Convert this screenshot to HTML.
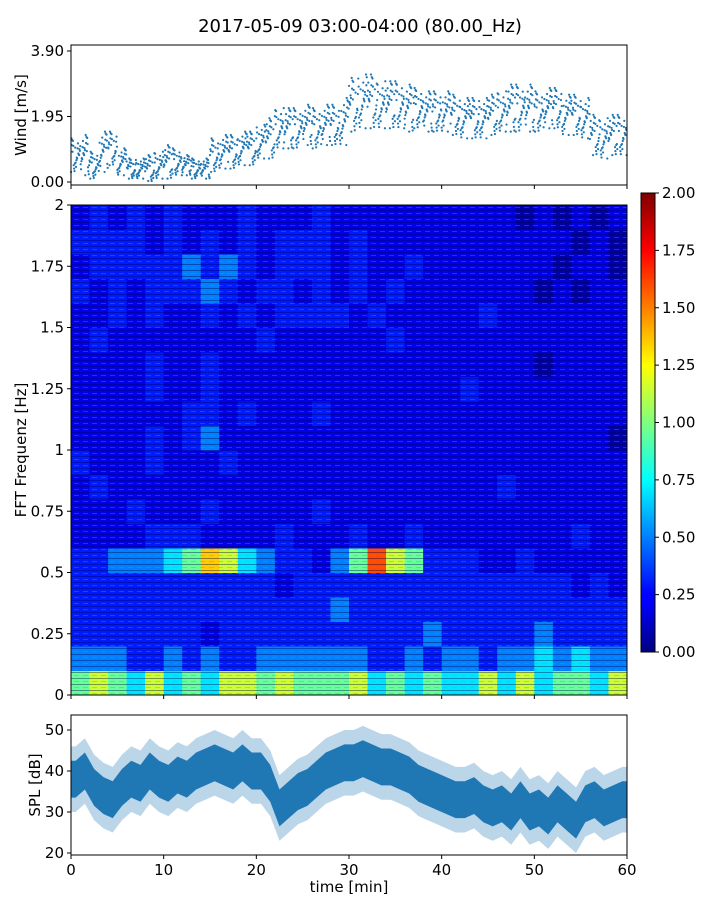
<!DOCTYPE html>
<html><head><meta charset="utf-8">
<style>
body{margin:0;background:#fff;width:720px;height:900px;overflow:hidden;font-family:"Liberation Sans","DejaVu Sans",sans-serif;}
svg text{font-family:"DejaVu Sans","Liberation Sans",sans-serif;fill:#000;}
</style></head>
<body>
<svg id="fig" width="720" height="900" xmlns="http://www.w3.org/2000/svg">
<defs>
<linearGradient id="jet" x1="0" y1="1" x2="0" y2="0">
<stop offset="0" stop-color="#000080"/><stop offset="0.11" stop-color="#0000ff"/><stop offset="0.125" stop-color="#0000ff"/>
<stop offset="0.375" stop-color="#00ffff"/><stop offset="0.625" stop-color="#ffff00"/><stop offset="0.875" stop-color="#ff0000"/><stop offset="1" stop-color="#800000"/>
</linearGradient>
<pattern id="streak" width="9" height="6" patternUnits="userSpaceOnUse">
<rect x="0" y="0" width="9" height="1" fill="#000050" opacity="0.4"/>
<rect x="2" y="3" width="5" height="1" fill="#5090ff" opacity="0.35"/>
</pattern>
</defs>
<text x="360" y="32" font-size="18" text-anchor="middle">2017-05-09 03:00-04:00 (80.00_Hz)</text>
<g id="wind"></g>
<g id="spec"></g>
<g id="cbar"></g>
<g id="spl"></g>
</svg>
<script>
const windMean=[0.8,0.8,0.5,0.9,1.0,0.6,0.4,0.4,0.4,0.5,0.6,0.6,0.5,0.4,0.4,0.8,0.9,0.9,1.0,1.0,1.2,1.3,1.6,1.6,1.6,1.7,1.6,1.7,1.7,1.8,2.3,2.4,2.4,2.3,2.3,2.3,2.2,2.2,2.1,2.1,2.1,2.0,1.9,1.9,1.9,2.0,2.1,2.2,2.2,2.2,2.1,2.2,2.2,2.0,2.0,1.9,1.4,1.3,1.4,1.4];
const windSpread=[0.5,0.6,0.4,0.6,0.5,0.4,0.3,0.3,0.4,0.4,0.5,0.4,0.3,0.3,0.3,0.5,0.5,0.5,0.5,0.5,0.5,0.6,0.6,0.6,0.6,0.6,0.6,0.6,0.6,0.7,0.8,0.8,0.8,0.7,0.7,0.7,0.7,0.6,0.6,0.6,0.6,0.6,0.6,0.6,0.6,0.6,0.6,0.7,0.7,0.7,0.6,0.6,0.6,0.6,0.6,0.6,0.6,0.6,0.6,0.6];
const windTicks=[0.00,1.95,3.90];
const splMean=[38,40,36,34,33,36,38,37,40,38,37,39,38,40,41,42,41,40,42,40,40,37,31,33,35,36,38,40,41,42,42,43,42,41,41,40,39,37,36,35,34,33,33,34,32,31,32,30,33,30,31,29,32,30,28,32,33,31,32,33];
const splTicks=[20,30,40,50];
const timeTicks=[0,10,20,30,40,50,60];
const freqTicks=["0","0.25","0.5","0.75","1","1.25","1.5","1.75","2"];
const cbarTicks=[0.00,0.25,0.50,0.75,1.00,1.25,1.50,1.75,2.00];
const levelPower=[0.08,0.2,0.3,0.5,0.7,0.95,1.15,1.35,1.6,1.8];
const specRows=[ // bottom (0 Hz) to top (2 Hz), digit -> levelPower
"565464546656555645454464645546",
"333223232233333322323323343433",
"222222212222222222232222232222",
"222222222222223222222222222222",
"222222222221222222222222222121",
"223334576432213586522211211111",
"111122211112111211211111111211",
"111211121111121111111111111111",
"121111111111111111111112111111",
"211121112111111111111111111111",
"111121231111111111111111111110",
"111111221211121111111111111111",
"111121121111111111111211111111",
"111121121111111111111111101111",
"121111111121111112111111111111",
"112121121212222121111121111111",
"212122232122121212111111101011",
"122222323212221211211111110110",
"222212121212221211111111111010",
"121212111211121111111111010101"];
const NS="http://www.w3.org/2000/svg";
function mk(p,tag,at){const e=document.createElementNS(NS,tag);for(const k in at)e.setAttribute(k,at[k]);p.appendChild(e);return e;}
const X0=71,X1=627;
const xs=t=>X0+t/60*(X1-X0);
function jet(v){v=Math.max(0,Math.min(1,v));const c=x=>Math.round(255*Math.max(0,Math.min(1,x)));
return `rgb(${c(1.5-Math.abs(4*v-3))},${c(1.5-Math.abs(4*v-2))},${c(1.5-Math.abs(4*v-1))})`;}
function frame(g,x0,y0,x1,y1){const r=mk(g,'rect',{x:x0,y:y0,width:x1-x0,height:y1-y0,fill:'none',stroke:'#000','stroke-width':1});}
function ytick(g,x,y,label,name){mk(g,'line',{x1:x-4,x2:x,y1:y,y2:y,stroke:'#000'});const t=mk(g,'text',{x:x-7,y:y+5,'font-size':15,'text-anchor':'end'});t.textContent=label;}
function ylabel(g,x,y,label,name){const t=mk(g,'text',{x:x,y:y,'font-size':15,'text-anchor':'middle',transform:`rotate(-90 ${x} ${y})`});t.textContent=label;}
// wind
(function(){const g=document.getElementById('wind');const Y0=45,Y1=185;const ys=v=>182-v/3.9*131;
mk(g,'rect',{x:X0,y:Y0,width:X1-X0,height:Y1-Y0,fill:'#fff'});
const offs=[-1,-0.6,-0.3,0,0.2,0.45,0.7,1,-0.8,-0.15,0.35,0.85,-0.45,0.1,0.6,-0.95,-0.2,0.25,0.55,-0.7,0.05,0.9,-0.5,0.4];
for(let i=0;i<windMean.length;i++){const m=windMean[i],s=windSpread[i];
 for(let k=0;k<offs.length;k++){const t=i+k/offs.length;const o=offs[(k*7+i*5)%offs.length];
  const c=mk(g,'circle',{cx:xs(t),cy:ys(Math.max(0.03,m+o*s)),r:1.1,fill:'#1f77b4'});
  }}
frame(g,X0,Y0,X1,Y1);
windTicks.forEach(v=>ytick(g,X0,ys(v),v.toFixed(2),'wind-y-tick'));
timeTicks.forEach(t=>mk(g,'line',{x1:xs(t),x2:xs(t),y1:Y1,y2:Y1+4,stroke:'#000'}));
ylabel(g,26,115,'Wind [m/s]','wind-y-axis-title');})();
// spectrogram
(function(){const g=document.getElementById('spec');const Y0=205,Y1=695;const ys=f=>Y1-f/2*(Y1-Y0);
const nr=specRows.length,nc=specRows[0].length;
for(let r=0;r<nr;r++)for(let c=0;c<nc;c++){const v=levelPower[+specRows[r][c]];
 const e=mk(g,'rect',{x:xs(c*60/nc),y:ys((r+1)*2/nr),width:xs((c+1)*60/nc)-xs(c*60/nc)+0.5,height:(Y1-Y0)/nr+0.5,fill:jet(v/2)});
 }
mk(g,'rect',{x:X0,y:Y0,width:X1-X0,height:Y1-Y0,fill:'url(#streak)'});
frame(g,X0,Y0,X1,Y1);
freqTicks.forEach((l,i)=>ytick(g,X0,ys(i*0.25),l,'freq-y-tick'));
timeTicks.forEach(t=>mk(g,'line',{x1:xs(t),x2:xs(t),y1:Y1,y2:Y1+4,stroke:'#000'}));
ylabel(g,26,450,'FFT Frequenz [Hz]','freq-y-axis-title');})();
// colorbar
(function(){const g=document.getElementById('cbar');const Y0=193,Y1=652,x0=641,x1=655;const ys=v=>Y1-v/2*(Y1-Y0);
mk(g,'rect',{x:x0,y:Y0,width:x1-x0,height:Y1-Y0,fill:'url(#jet)',stroke:'#000'});
cbarTicks.forEach(v=>{mk(g,'line',{x1:x1,x2:x1+4,y1:ys(v),y2:ys(v),stroke:'#000'});const t=mk(g,'text',{x:x1+7,y:ys(v)+5,'font-size':15});t.textContent=v.toFixed(2);});})();
// spl
(function(){const g=document.getElementById('spl');const Y0=715,Y1=855;const ys=v=>853-(v-20)/30*123;
mk(g,'rect',{x:X0,y:Y0,width:X1-X0,height:Y1-Y0,fill:'#fff'});
const bands=[[8,0.3],[4.5,1]];
bands.forEach(([w,op])=>{let top=[],bot=[];splMean.forEach((m,i)=>{top.push(`${xs(i+0.5)},${ys(m+w)}`);bot.unshift(`${xs(i+0.5)},${ys(m-w)}`);});
 top.unshift(`${xs(0)},${ys(splMean[0]+w)}`);top.push(`${xs(60)},${ys(splMean[59]+w)}`);bot.unshift(`${xs(60)},${ys(splMean[59]-w)}`);bot.push(`${xs(0)},${ys(splMean[0]-w)}`);
 const p=mk(g,'polygon',{points:top.concat(bot).join(' '),fill:'#1f77b4',opacity:op});});
frame(g,X0,Y0,X1,Y1);
splTicks.forEach(v=>ytick(g,X0,ys(v),String(v),'spl-y-tick'));
timeTicks.forEach(t=>{mk(g,'line',{x1:xs(t),x2:xs(t),y1:Y1,y2:Y1+4,stroke:'#000'});const l=mk(g,'text',{x:xs(t),y:875,'font-size':15,'text-anchor':'middle'});l.textContent=t;});
const xl=mk(g,'text',{x:349,y:892,'font-size':15,'text-anchor':'middle'});xl.textContent='time [min]';
ylabel(g,40,785,'SPL [dB]','spl-y-axis-title');})();
</script>
</body></html>
